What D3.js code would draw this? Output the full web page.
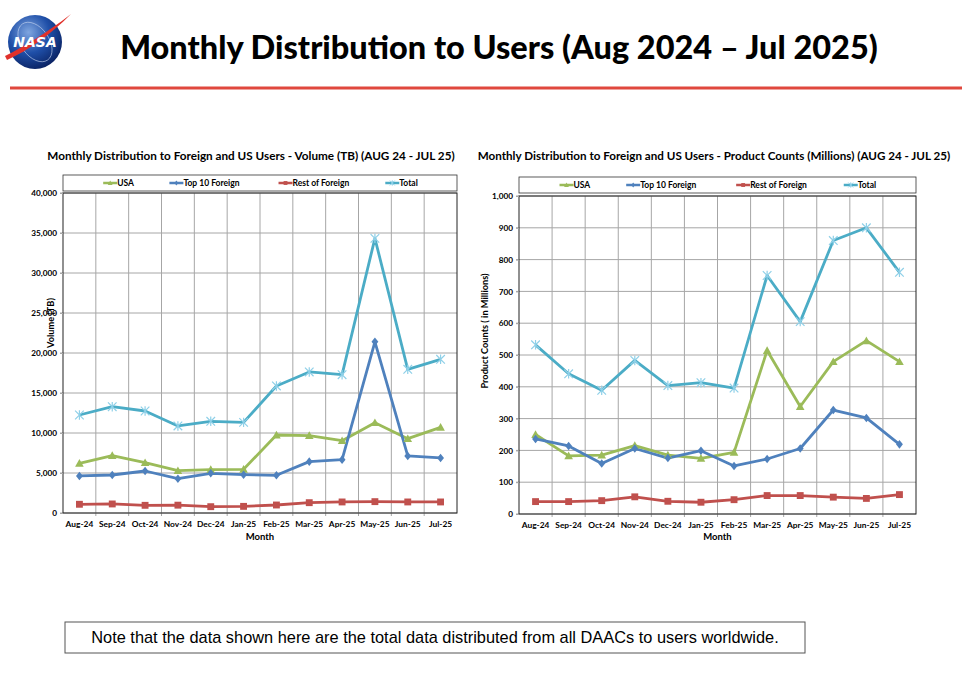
<!DOCTYPE html>
<html>
<head>
<meta charset="utf-8">
<script src="https://cdn.jsdelivr.net/npm/d3@7"></script>
<style>
  body { margin: 0; background: #fff; }
  svg { display: block; }
  text { font-family: Lato, "Open Sans", sans-serif; }
</style>
</head>
<body>
<div class="page"></div>
<script>
// months and series values
const months = ["Aug-24","Sep-24","Oct-24","Nov-24","Dec-24","Jan-25","Feb-25","Mar-25","Apr-25","May-25","Jun-25","Jul-25"]
const seriesNames = ["USA","Top 10 Foreign","Rest of Foreign","Total"]

// volume (TB)
const volUSA   = [6210, 7170, 6290, 5290, 5420, 5460, 9750, 9670, 9040, 11290, 9290, 10710]
const volTop10 = [4630, 4750, 5250, 4290, 4960, 4790, 4710, 6420, 6670, 21400, 7130, 6880]
const volRest  = [1090, 1130, 960, 980, 790, 830, 1000, 1290, 1380, 1420, 1380, 1380]
const volTotal = [12250, 13290, 12750, 10880, 11460, 11330, 15880, 17630, 17290, 34330, 17960, 19210]

// product counts (millions)
const cntUSA   = [250, 183, 185, 215, 185, 175, 194, 514, 338, 479, 545, 479]
const cntTop10 = [236, 214, 159, 206, 176, 199, 151, 173, 206, 327, 302, 219]
const cntRest  = [39, 39, 42, 54, 40, 37, 45, 58, 58, 53, 49, 61]
const cntTotal = [532, 441, 389, 483, 404, 413, 396, 750, 605, 860, 900, 760]

const volTicks = [0, 5000, 10000, 15000, 20000, 25000, 30000, 35000, 40000]
const cntTicks = [0, 100, 200, 300, 400, 500, 600, 700, 800, 900, 1000]

const colors = ["#9bbb59", "#4f81bd", "#c0504d", "#4bacc6"]
const markerColors = ["#9bbb59", "#4f81bd", "#c0504d", "#8fd0e8"]
const markers = ["triangle", "diamond", "square", "star"]

const width = 972, height = 696

const svg = d3.select(".page")
  .append("svg")
    .attr("width", width)
    .attr("height", height)

svg.append("rect").attr("width", width).attr("height", height).attr("fill", "#fff")

// shrink/grow a text so it spans a given width
function fitWidth(sel, target) {
  const node = sel.node()
  const w = node.getComputedTextLength()
  const fs = parseFloat(sel.attr("font-size"))
  sel.attr("font-size", fs * target / w)
}

// ---- header: logo, title, rule ----
const defs = svg.append("defs")
const grad = defs.append("radialGradient").attr("id", "globe").attr("cx", "38%").attr("cy", "32%").attr("r", "70%")
grad.append("stop").attr("offset", "0%").attr("stop-color", "#7fa6e0")
grad.append("stop").attr("offset", "55%").attr("stop-color", "#1f4fa8")
grad.append("stop").attr("offset", "100%").attr("stop-color", "#0b2466")

const logo = svg.append("g").attr("transform", "translate(35,42)")
logo.append("circle").attr("r", 27).attr("fill", "url(#globe)")
logo.append("ellipse").attr("rx", 14).attr("ry", 22).attr("transform", "rotate(-35)")
  .attr("fill", "none").attr("stroke", "#c9d8f2").attr("stroke-width", 0.8).attr("opacity", 0.7)
logo.append("path")
  .attr("d", "M-30,14 C-10,4 10,-8 36,-28 C14,-6 -6,8 -28,18 Z")
  .attr("fill", "#e0312b")
logo.append("text")
  .attr("x", 0).attr("y", 5)
  .attr("text-anchor", "middle")
  .attr("font-size", 14).attr("font-weight", 700)
  .attr("font-style", "italic")
  .attr("fill", "#fff")
  .style("font-family", "'DejaVu Sans', sans-serif")
  .text("NASA")

const mainTitle = svg.append("text")
  .attr("x", 499).attr("y", 59)
  .attr("text-anchor", "middle")
  .attr("font-size", 30).attr("font-weight", 900)
  .attr("fill", "#000")
  .text("Monthly Distribution to Users (Aug 2024 \u2013 Jul 2025)")
fitWidth(mainTitle, 758)

svg.append("line")
  .attr("x1", 10).attr("x2", 962).attr("y1", 88).attr("y2", 88)
  .attr("stroke", "#e0483e").attr("stroke-width", 3)

// marker shapes
function markerPath(type, s) {
  if (type == "triangle") return `M0,${-s}L${s},${s * 0.8}L${-s},${s * 0.8}Z`
  if (type == "diamond") return `M0,${-s}L${s * 0.8},0L0,${s}L${-s * 0.8},0Z`
  if (type == "square") return `M${-s * 0.8},${-s * 0.8}H${s * 0.8}V${s * 0.8}H${-s * 0.8}Z`
  return `M${-s},${-s}L${s},${s}M${-s},${s}L${s},${-s}M0,${-s * 1.1}V${s * 1.1}`
}

function drawChart(opt) {
  const g = svg.append("g")
  const x = d3.scaleBand().domain(months).range([opt.left, opt.right])
  const y = d3.scaleLinear().domain([0, d3.max(opt.ticks)]).range([opt.bottom, opt.top])
  const cx = m => x(m) + x.bandwidth() / 2

  // chart title
  const t = g.append("text")
    .attr("x", opt.titleX).attr("y", 160)
    .attr("text-anchor", "middle")
    .attr("font-size", 11).attr("font-weight", 700)
    .text(opt.title)
  fitWidth(t, opt.titleW)

  // legend box
  const lg = g.append("g")
  lg.append("rect")
    .attr("x", opt.left).attr("y", opt.legendY)
    .attr("width", opt.right - opt.left).attr("height", 16)
    .attr("fill", "#fff").attr("stroke", "#333").attr("stroke-width", 0.8)
  const offs = [0.102, 0.27, 0.547, 0.818]
  seriesNames.forEach((name, i) => {
    const lx = opt.left + (opt.right - opt.left) * offs[i]
    const ly = opt.legendY + 8
    lg.append("line")
      .attr("x1", lx).attr("x2", lx + 14).attr("y1", ly).attr("y2", ly)
      .attr("stroke", colors[i]).attr("stroke-width", 2.5)
    lg.append("path")
      .attr("transform", `translate(${lx + 7},${ly})`)
      .attr("d", markerPath(markers[i], 2.4))
      .attr("fill", markers[i] == "star" ? "none" : colors[i])
      .attr("stroke", markers[i] == "star" ? markerColors[i] : "none")
      .attr("stroke-width", 1)
    lg.append("text")
      .attr("x", lx + 14).attr("y", ly + 3)
      .attr("font-size", 8.5).attr("font-weight", 700)
      .text(name)
  })

  // grid
  g.append("g").selectAll("line.h")
    .data(opt.ticks)
    .join("line")
      .attr("x1", opt.left - 3).attr("x2", opt.right)
      .attr("y1", d => y(d)).attr("y2", d => y(d))
      .attr("stroke", "#a6a6a6").attr("stroke-width", 1)
  g.append("g").selectAll("line.v")
    .data(months.slice(1))
    .join("line")
      .attr("x1", d => x(d)).attr("x2", d => x(d))
      .attr("y1", opt.top).attr("y2", opt.bottom + 3)
      .attr("stroke", "#a6a6a6").attr("stroke-width", 1)

  // plot frame
  g.append("rect")
    .attr("x", opt.left).attr("y", opt.top)
    .attr("width", opt.right - opt.left).attr("height", opt.bottom - opt.top)
    .attr("fill", "none").attr("stroke", "#222").attr("stroke-width", 1)

  // y axis
  const yAxis = g.append("g")
    .attr("transform", `translate(${opt.left},0)`)
    .call(d3.axisLeft(y).tickValues(opt.ticks).tickSize(3).tickSizeOuter(0).tickFormat(d3.format(",")))
  yAxis.select(".domain").remove()
  yAxis.selectAll(".tick line").attr("stroke", "#a6a6a6")
  yAxis.selectAll(".tick text")
    .attr("x", -6)
    .attr("font-size", 8.2).attr("font-weight", 700)
    .attr("fill", "#000")

  // x axis
  const xAxis = g.append("g")
    .attr("transform", `translate(0,${opt.bottom})`)
    .call(d3.axisBottom(x).tickSize(0))
  xAxis.select(".domain").remove()
  xAxis.selectAll(".tick text")
    .attr("y", 8)
    .attr("font-size", 8.4).attr("font-weight", 700)
    .attr("fill", "#000")

  g.append("text")
    .attr("x", (opt.left + opt.right) / 2).attr("y", 540)
    .attr("text-anchor", "middle")
    .attr("font-size", 9.5).attr("font-weight", 700)
    .text("Month")

  g.append("text")
    .attr("transform", `translate(${opt.yLabelX},${opt.yLabelY}) rotate(-90)`)
    .attr("text-anchor", "middle")
    .attr("font-size", 9.2).attr("font-weight", 700)
    .text(opt.yLabel)

  // series
  const line = d3.line().x((d, i) => cx(months[i])).y(d => y(d))
  opt.series.forEach((vals, i) => {
    g.append("path")
      .datum(vals)
      .attr("fill", "none")
      .attr("stroke", colors[i])
      .attr("stroke-width", 2.8)
      .attr("stroke-linejoin", "round")
      .attr("d", line)
  })
  opt.series.forEach((vals, i) => {
    g.append("g").selectAll("path")
      .data(vals)
      .join("path")
        .attr("transform", (d, j) => `translate(${cx(months[j])},${y(d)})`)
        .attr("d", markerPath(markers[i], 4.3))
        .attr("fill", markers[i] == "star" ? "none" : colors[i])
        .attr("stroke", markers[i] == "star" ? markerColors[i] : "none")
        .attr("stroke-width", 1.2)
  })
}

drawChart({
  left: 63, right: 457, top: 193, bottom: 513,
  legendY: 175,
  ticks: volTicks,
  series: [volUSA, volTop10, volRest, volTotal],
  title: "Monthly Distribution to Foreign and US Users - Volume  (TB) (AUG 24 - JUL 25)",
  titleX: 251, titleW: 408,
  yLabel: "Volume (TB)", yLabelX: 54, yLabelY: 323
})

drawChart({
  left: 519, right: 916, top: 196, bottom: 514,
  legendY: 177,
  ticks: cntTicks,
  series: [cntUSA, cntTop10, cntRest, cntTotal],
  title: "Monthly Distribution to Foreign and US Users - Product Counts (Millions) (AUG 24 - JUL 25)",
  titleX: 714, titleW: 473,
  yLabel: "Product Counts ( in Millions)", yLabelX: 488, yLabelY: 331
})

// note box
svg.append("rect")
  .attr("x", 65).attr("y", 622)
  .attr("width", 740).attr("height", 31)
  .attr("fill", "#fff").attr("stroke", "#555").attr("stroke-width", 1)
const note = svg.append("text")
  .attr("x", 435).attr("y", 643)
  .attr("text-anchor", "middle")
  .attr("font-size", 16)
  .style("font-family", "'Liberation Sans', Arial, sans-serif")
  .text("Note that the data shown here are the total data distributed from all DAACs to users worldwide.")
fitWidth(note, 688)
</script>
</body>
</html>
